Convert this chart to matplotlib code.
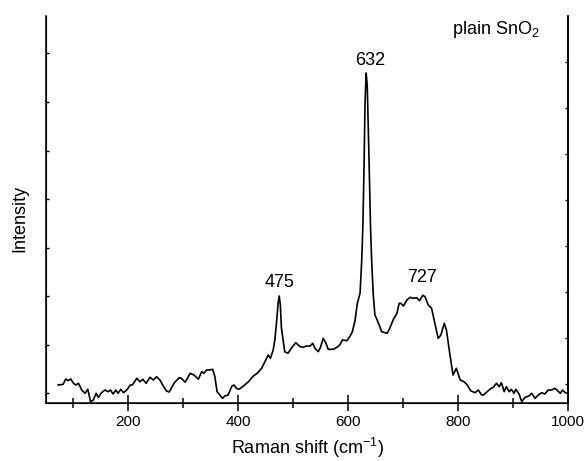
import matplotlib
matplotlib.use("Agg")
import matplotlib.pyplot as plt
from matplotlib.ticker import MultipleLocator

plt.rcParams['font.family'] = ['Liberation Sans', 'DejaVu Sans']
plt.rcParams['mathtext.fontset'] = 'custom'
plt.rcParams['mathtext.rm'] = 'Liberation Sans'
plt.rcParams['mathtext.it'] = 'Liberation Sans:italic'
plt.rcParams['mathtext.bf'] = 'Liberation Sans:bold'

# Raman spectrum of plain SnO2 (arbitrary intensity units)
raman_shift = [73, 82, 87, 91, 96, 101, 105, 110, 116, 122, 127, 132, 137, 142, 146,
               152, 158, 164, 168, 173, 178, 182, 187, 192, 199, 204, 208, 216, 222,
               227, 233, 240, 246, 252, 258, 265, 270, 275, 284, 293, 297, 304, 313,
               320, 328, 334, 338, 343, 348, 354, 358, 362, 367, 372, 376, 382, 389,
               393, 397, 402, 410, 419, 428, 435, 443, 449, 455, 459, 464, 467, 470,
               473, 475, 477, 479, 482, 485, 491, 497, 505, 513, 519, 524, 531, 536,
               540, 546, 550, 555, 560, 564, 573, 580, 585, 590, 598, 604, 608, 613,
               617, 622, 625, 627, 629, 631, 633, 635, 638, 641, 643, 646, 649, 653,
               658, 661, 667, 671, 676, 682, 689, 693, 696, 701, 707, 713, 719, 725,
               730, 736, 740, 746, 752, 758, 764, 769, 775, 779, 785, 791, 797, 804,
               811, 817, 823, 831, 837, 843, 846, 851, 858, 864, 870, 875, 879, 884,
               888, 893, 897, 902, 905, 911, 916, 922, 929, 934, 940, 946, 952, 958,
               964, 970, 976, 980, 986, 990, 995, 999]
intensity = [18, 18.7, 24, 22.3, 24, 19.7, 18, 19.7, 13, 9.7, 13.7, 1.3, 3, 9.7, 5.7,
             10.3, 13, 11.3, 13, 9, 13, 9.7, 13.7, 10.3, 13.7, 18, 18, 24.7, 21.3,
             23.7, 19.7, 25.7, 23, 26.3, 23, 16.3, 12, 11, 20, 25.3, 24.7, 20.7, 29.7,
             28, 23.7, 31.3, 29.7, 33, 33, 33.7, 26.3, 11.3, 8, 4.7, 7, 8, 17,
             18, 14.7, 13.7, 17, 21.3, 27, 29.7, 34.7, 41.3, 48, 44.7, 53, 63, 80,
             100, 107, 98, 75, 63, 51.3, 49.7, 54.7, 60.3, 56.3, 55.7, 57, 57, 59.7,
             54.7, 51.3, 55.7, 64.7, 59.7, 53.7, 53.7, 55.7, 58, 63, 62.3, 67, 71.3, 83,
             99.7, 110, 143, 175, 230, 300, 330, 318, 250, 176, 143, 108, 88, 83,
             76.3, 71.3, 70.3, 69.7, 74.7, 83, 89.7, 99.7, 99.7, 97, 103, 105.7, 104.7, 105.3,
             102.3, 107.7, 106.3, 98, 94.7, 79.7, 64.7, 68, 79.7, 73, 49.7, 28, 34.7, 23,
             21.3, 18, 12.3, 10.3, 13, 8, 8, 10.3, 13.7, 15.7, 19.7, 16.3, 20.3, 11.3,
             16.3, 11.3, 13.7, 9.7, 13.7, 9, 1.3, 5.7, 7, 9.7, 4.7, 8, 10.3, 9,
             13, 13, 14.7, 13, 9.7, 13, 10.3, 9.7]

peak_labels = ["475", "632", "727"]
peak_label_x = [475, 640, 734]
peak_label_y = [116, 338, 121]

left_ticks = [10 + 48.5 * k for k in range(8)]
right_ticks = [19 + 46 * k for k in range(8)]

fig = plt.figure(figsize=(5.87, 4.61), dpi=100)
ax = fig.add_axes([0.0784, 0.1258, 0.8892, 0.8395])

ax.plot(raman_shift, intensity, color='black', lw=1.2)

ax.set_xlim(51, 1000)
ax.set_ylim(0, 387)

ax.xaxis.set_major_locator(MultipleLocator(200))
ax.xaxis.set_minor_locator(MultipleLocator(100))
ax.tick_params(axis='x', which='major', direction='inout', length=11, width=1.1,
               labelsize=11, pad=3)
ax.tick_params(axis='x', which='minor', direction='inout', length=6.5, width=1.1)

ax.set_yticks(left_ticks)
ax.set_yticklabels([])
ax.tick_params(axis='y', which='major', direction='in', length=2, width=1)

ax.spines['top'].set_visible(False)
for s in ('left', 'right', 'bottom'):
    ax.spines[s].set_linewidth(1.1)

ax2 = ax.twinx()
ax2.set_ylim(0, 387)
ax2.set_yticks(right_ticks)
ax2.set_yticklabels([])
ax2.tick_params(axis='y', direction='in', length=2.5, width=1)
ax2.spines['top'].set_visible(False)
ax2.spines['right'].set_linewidth(1.1)

ax.set_xlabel(r'Raman shift (cm$^{-1}$)', fontsize=13, labelpad=5)
ax.set_ylabel('Intensity', fontsize=13)
ax.yaxis.set_label_coords(-0.033, 0.478)

for lab, x, y in zip(peak_labels, peak_label_x, peak_label_y):
    ax.text(x, y, lab, fontsize=13, ha='center', va='baseline')

ax.text(789, 369, r'plain SnO$_2$', fontsize=13, ha='left', va='baseline')

fig.savefig('out.png', dpi=100)
